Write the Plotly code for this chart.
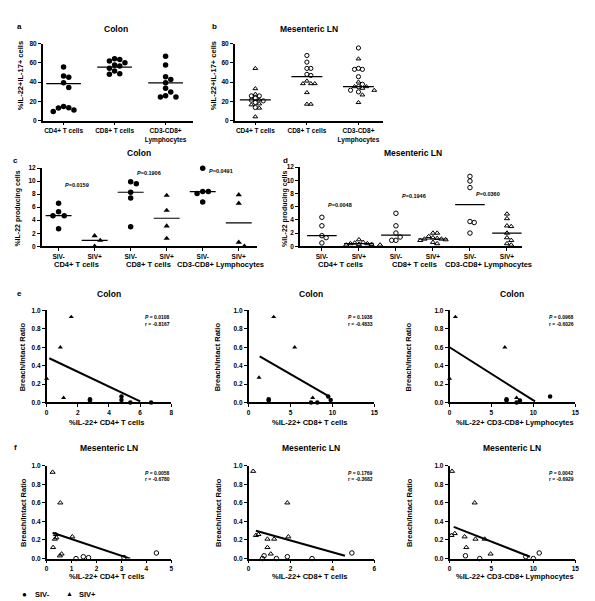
import numpy as np
import plotly.graph_objects as go

W, H = 595, 601

# ---------------- DATA ----------------
a_groups = ["CD4+ T cells", "CD8+ T cells", "CD3-CD8+<br>Lymphocytes"]
a_cd4 = [55.7, 46.4, 45.0, 39.5, 34.4, 14.8, 13.1, 13.4, 11.0, 9.6]
a_cd8 = [64.2, 63.5, 61.9, 60.2, 57.8, 56.8, 54.4, 51.5, 48.8, 48.1]
a_cd3 = [67.0, 57.8, 45.7, 42.9, 39.5, 33.7, 29.9, 25.8, 24.7, 24.7]
a_lines = [38.5, 55.6, 39.2]

b_cd4_neg = [25.8, 25.8, 23.4, 21.3, 20.6, 18.9, 13.7]
b_cd4_pos = [54.3, 33.3, 27.5, 21.6, 17.5, 16.5, 13.1, 4.1]
b_cd8_neg = [67.7, 60.8, 54.3, 54.3, 48.1, 47.0]
b_cd8_pos = [41.2, 38.5, 38.5, 38.5, 29.2, 17.2, 17.2]
b_cd3_neg = [75.5, 54.3, 53.3, 53.3, 45.7, 37.8, 35.4, 31.6, 29.9]
b_cd3_pos = [64.2, 40.2, 35.4, 35.4, 33.7, 31.6, 26.8, 18.9]
b_lines = [21.6, 45.7, 35.4]

cd_groups = ["CD4+ T cells", "CD8+ T cells", "CD3-CD8+ Lymphocytes"]
cd_ticks = ["SIV-", "SIV+", "SIV-", "SIV+", "SIV-", "SIV+"]

c_neg = [[6.6, 5.3, 4.7, 4.7, 2.7], [9.9, 9.6, 8.3, 7.4, 3.0], [12.0, 8.4, 8.4, 8.1, 6.8]]
c_pos = [[1.6, 0.9, 0.0], [7.8, 5.5, 3.1, 1.2], [7.9, 6.6, 0.6, 0.0]]
c_pvals = ["0.0159", "0.1906", "0.0491"]
c_p_y = [9.4, 11.2, 11.5]

d_neg = [[4.4, 3.1, 1.6, 1.3, 0.5], [5.0, 3.1, 2.0, 1.4, 0.9, 0.9],
         [10.6, 9.9, 8.9, 3.75, 3.6, 2.0]]
d_pos = [[1.0, 0.6, 0.5, 0.4, 0.4, 0.3, 0.3, 0.2, 0.2],
         [2.0, 2.0, 1.5, 1.3, 1.2, 1.1, 1.1, 1.0, 0.9, 0.6, 0.4],
         [4.9, 4.2, 3.1, 3.0, 2.0, 1.3, 0.9, 0.4, 0.2]]
d_pvals = ["0.0048", "0.1946", "0.0360"]
d_p_y = [6.3, 7.6, 7.9]

# correlation panels (e: colon, f: mesenteric LN)
e_xlabels = ["%IL-22+ CD4+ T cells", "%IL-22+ CD8+ T cells", "%IL-22+ CD3-CD8+ Lymphocytes"]
e_xmax = [8, 15, 15]
e_xdtick = [2, 5, 5]
e_neg_x = [[2.78, 2.78, 4.8, 4.8, 5.37, 6.7], [2.4, 2.4, 7.45, 8.2, 9.5, 9.8], [6.8, 6.8, 8.0, 8.4, 12.0]]
e_neg_y = [[0.035, 0.02, 0.065, 0.025, 0.0, 0.0], [0.035, 0.02, 0.0, 0.0, 0.065, 0.025], [0.035, 0.02, 0.0, 0.02, 0.065]]
e_pos_x = [[1.58, 0.88, 1.09, 0.0], [3.0, 5.5, 1.25, 7.65], [0.7, 6.6, 8.0, 0.0]]
e_pos_y = [[0.93, 0.6, 0.05, 0.26], [0.93, 0.6, 0.27, 0.05], [0.93, 0.6, 0.05, 0.26]]
e_fit_slope = [-0.0806, -0.0526, -0.0578]
e_fit_icpt = [0.494, 0.570, 0.60]
e_fit_span = [[0.17, 6.0], [1.33, 9.7], [0.0, 10.2]]
e_P = ["0.0108", "0.1938", "0.0968"]
e_r = ["-0.8167", "-0.4833", "-0.6026"]

f_xmax = [5, 6, 15]
f_xdtick = [1, 2, 5]
f_neg_x = [[1.18, 1.47, 1.68, 3.1, 4.4], [0.74, 0.66, 1.33, 1.85, 3.03, 4.93], [1.9, 3.6, 9.1, 10.0, 10.7]]
f_neg_y = [[0.0, 0.02, 0.01, 0.01, 0.06], [0.03, 0.0, 0.0, 0.02, 0.0, 0.06], [0.03, 0.0, 0.02, 0.0, 0.06]]
f_pos_x = [[0.24, 0.55, 0.37, 0.39, 0.33, 0.26, 1.03, 0.6, 0.53],
           [0.22, 1.85, 0.35, 0.47, 0.9, 1.22, 1.9, 0.9, 1.06],
           [0.3, 3.0, 0.24, 0.63, 1.8, 3.1, 4.2, 2.0, 4.9]]
f_pos_y = [[0.93, 0.6, 0.26, 0.225, 0.21, 0.12, 0.235, 0.05, 0.03],
           [0.94, 0.6, 0.25, 0.26, 0.21, 0.21, 0.235, 0.12, 0.05],
           [0.94, 0.6, 0.25, 0.27, 0.235, 0.21, 0.21, 0.12, 0.05]]
f_fit_slope = [-0.090, -0.0635, -0.0352]
f_fit_icpt = [0.30, 0.322, 0.358]
f_fit_span = [[0.24, 3.35], [0.35, 4.6], [0.5, 9.6]]
f_P = ["0.0058", "0.1769", "0.0042"]
f_r = ["-0.6780", "-0.3682", "-0.6929"]

# ---------------- HELPERS ----------------
FONT = "Liberation Sans, Arial, sans-serif"


def xdom(p0, p1):
    return [p0 / W, p1 / W]


def ydom(top, bot):
    return [1 - bot / H, 1 - top / H]


def px(x):
    return x / W


def py(y):
    return 1 - y / H


def swarm(vals, ppu_y, ppc, msize):
    """simple beeswarm: returns x offsets (category units)"""
    order = np.argsort(-np.asarray(vals), kind="stable")
    placed = []
    offs = np.zeros(len(vals))
    step = msize * 0.95
    for i in order:
        yp = vals[i] * ppu_y
        cands = [0]
        for j in range(1, 12):
            cands += [j * step, -j * step]
        for c in cands:
            ok = True
            for (xo, yo) in placed:
                if abs(xo - c) < msize * 0.95 and abs(yo - yp) < msize * 0.95:
                    ok = False
                    break
            if ok:
                offs[i] = c
                placed.append((c, yp))
                break
    return offs / ppc


fig = go.Figure()
layout = dict(width=W, height=H, margin=dict(l=0, r=0, t=0, b=0),
              paper_bgcolor="white", plot_bgcolor="white", showlegend=False,
              font=dict(family=FONT, color="black"))
annots = []

axis_common = dict(showline=True, linecolor="black", linewidth=1.5, ticks="outside",
                   ticklen=3, tickwidth=1.2, tickcolor="black", showgrid=False,
                   zeroline=False, tickfont=dict(size=6.5, family=FONT, weight="bold", color="black"))


def add_axes(n, xd, yd, xr, yr, **kw):
    xa = "xaxis" if n == 1 else f"xaxis{n}"
    ya = "yaxis" if n == 1 else f"yaxis{n}"
    xk = dict(axis_common, domain=xd, range=xr, anchor="y" if n == 1 else f"y{n}")
    yk = dict(axis_common, domain=yd, range=yr, anchor="x" if n == 1 else f"x{n}")
    xk.update(kw.get("x", {}))
    yk.update(kw.get("y", {}))
    layout[xa] = xk
    layout[ya] = yk
    return ("x" if n == 1 else f"x{n}", "y" if n == 1 else f"y{n}")


def text(x, y, s, size=7, bold=True, xref="paper", yref="paper", xanchor="center",
         yanchor="middle", angle=0):
    annots.append(dict(x=x, y=y, xref=xref, yref=yref, text=s, showarrow=False,
                       xanchor=xanchor, yanchor=yanchor, textangle=angle,
                       font=dict(size=size, family=FONT, color="black",
                                 weight="bold" if bold else "normal")))


def mk(symbol, size, open_=False):
    if open_:
        return dict(symbol=symbol + "-open", size=size, color="black", line=dict(width=1, color="black"))
    return dict(symbol=symbol, size=size, color="black", line=dict(width=0))


def median_line(xr, yr, xc, v, half):
    fig.add_trace(go.Scatter(x=[xc - half, xc + half], y=[v, v], mode="lines",
                             line=dict(color="black", width=1.2), xaxis=xr, yaxis=yr,
                             hoverinfo="skip"))


# ---------------- PANEL a ----------------
xr, yr = add_axes(1, xdom(33, 185), ydom(32, 110), [-0.41, 2.54], [0, 80],
                  x=dict(tickvals=[0, 1, 2], ticktext=a_groups),
                  y=dict(tickvals=[0, 20, 40, 60, 80]))
for gi, vals in enumerate([a_cd4, a_cd8, a_cd3]):
    off = swarm(vals, 78 / 80, 51.5, 5.5)
    fig.add_trace(go.Scatter(x=gi + off, y=vals, mode="markers", marker=mk("circle", 5.5),
                             xaxis=xr, yaxis=yr, cliponaxis=False))
    median_line(xr, yr, gi, a_lines[gi], 0.34)

# ---------------- PANEL b ----------------
xr, yr = add_axes(2, xdom(227, 377), ydom(32, 110), [-0.40, 2.48], [0, 80],
                  x=dict(tickvals=[0, 1, 2], ticktext=a_groups),
                  y=dict(tickvals=[0, 20, 40, 60, 80]))
for gi, (neg, pos) in enumerate([(b_cd4_neg, b_cd4_pos), (b_cd8_neg, b_cd8_pos), (b_cd3_neg, b_cd3_pos)]):
    allv = neg + pos
    off = swarm(allv, 78 / 80, 52, 4.2)
    n = len(neg)
    fig.add_trace(go.Scatter(x=gi + off[:n], y=neg, mode="markers", marker=mk("circle", 4.2, True),
                             xaxis=xr, yaxis=yr, cliponaxis=False))
    fig.add_trace(go.Scatter(x=gi + off[n:], y=pos, mode="markers", marker=mk("triangle-up", 4.2, True),
                             xaxis=xr, yaxis=yr, cliponaxis=False))
    median_line(xr, yr, gi, b_lines[gi], 0.3)

# ---------------- PANEL c ----------------
xr, yr = add_axes(3, xdom(32, 250), ydom(158, 237), [-0.47, 5.52], [0, 12],
                  x=dict(tickvals=list(range(6)), ticktext=cd_ticks),
                  y=dict(tickvals=list(range(0, 13, 2))))
for gi in range(3):
    for si, (vals, sym) in enumerate([(c_neg[gi], "circle"), (c_pos[gi], "triangle-up")]):
        col = gi * 2 + si
        off = swarm(vals, 79 / 12, 36.4, 6)
        fig.add_trace(go.Scatter(x=col + off, y=vals, mode="markers", marker=mk(sym, 5.5),
                                 xaxis=xr, yaxis=yr, cliponaxis=False))
        median_line(xr, yr, col, float(np.median(vals)), 0.36)
    text(gi * 2 + 0.5, c_p_y[gi], "<i>P</i>=" + c_pvals[gi], size=5.5, xref=xr, yref=yr)
    text(gi * 2 + 0.5, py(255), cd_groups[gi], size=7.5, xref=xr)

# ---------------- PANEL d ----------------
xr, yr = add_axes(4, xdom(293, 517), ydom(157, 237), [-0.59, 5.4], [0, 12],
                  x=dict(tickvals=list(range(6)), ticktext=cd_ticks),
                  y=dict(tickvals=list(range(0, 13, 2))))
for gi in range(3):
    for si, (vals, sym) in enumerate([(d_neg[gi], "circle"), (d_pos[gi], "triangle-up")]):
        col = gi * 2 + si
        off = swarm(vals, 80 / 12, 37.4, 4.5)
        fig.add_trace(go.Scatter(x=col + off, y=vals, mode="markers", marker=mk(sym, 4.5, True),
                                 xaxis=xr, yaxis=yr, cliponaxis=False))
        median_line(xr, yr, col, float(np.median(vals)), 0.4)
    text(gi * 2 + 0.5, d_p_y[gi], "<i>P</i>=" + d_pvals[gi], size=5.5, xref=xr, yref=yr)
    text(gi * 2 + 0.5, py(255), cd_groups[gi], size=7.5, xref=xr)

# ---------------- PANELS e / f ----------------
cols_px = [(37, 163), (241, 368), (444, 571)]
ylab_x = [13, 210, 403]
xlab_x = [97, 303, 510]
rows = [
    dict(top=302, bot=395, title="Colon", title_y=285, xlab_y=415, xmax=e_xmax, dtick=e_xdtick,
         nx=e_neg_x, ny=e_neg_y, px_=e_pos_x, py_=e_pos_y, sl=e_fit_slope, ic=e_fit_icpt,
         sp=e_fit_span, P=e_P, r=e_r, open_=False),
    dict(top=459, bot=553, title="Mesenteric LN", title_y=441, xlab_y=571, xmax=f_xmax, dtick=f_xdtick,
         nx=f_neg_x, ny=f_neg_y, px_=f_pos_x, py_=f_pos_y, sl=f_fit_slope, ic=f_fit_icpt,
         sp=f_fit_span, P=f_P, r=f_r, open_=True),
]
n = 5
for row in rows:
    for k in range(3):
        x0, x1 = cols_px[k]
        xr, yr = add_axes(n, xdom(x0, x1), ydom(row["top"], row["bot"]), [0, row["xmax"][k]], [0, 1],
                          x=dict(dtick=row["dtick"][k], tick0=0),
                          y=dict(dtick=0.2, tickformat=".1f"))
        n += 1
        xs = np.array(row["sp"][k])
        fig.add_trace(go.Scatter(x=xs, y=row["ic"][k] + row["sl"][k] * xs, mode="lines",
                                 line=dict(color="black", width=2), xaxis=xr, yaxis=yr))
        fig.add_trace(go.Scatter(x=row["nx"][k], y=row["ny"][k], mode="markers",
                                 marker=mk("circle", 4.5, row["open_"]), xaxis=xr, yaxis=yr,
                                 cliponaxis=False))
        fig.add_trace(go.Scatter(x=row["px_"][k], y=row["py_"][k], mode="markers",
                                 marker=mk("triangle-up", 4.5, row["open_"]), xaxis=xr, yaxis=yr,
                                 cliponaxis=False))
        text(px((x0 + x1) / 2), py(row["title_y"]), row["title"], size=8.5)
        text(px(ylab_x[k]), py((row["top"] + row["bot"]) / 2), "Breach/Intact Ratio", size=7.5, angle=-90)
        text(px(xlab_x[k]), py(row["xlab_y"]), e_xlabels[k], size=7.5)
        text(px(x1 + 1), py(row["top"] + 7), "<i>P</i> = " + row["P"][k], size=5, xanchor="right")
        text(px(x1 + 1), py(row["top"] + 14), "r = " + row["r"][k], size=5, xanchor="right")

# ---------------- titles / labels ----------------
text(px(10), py(15), "a", size=8)
text(px(207), py(15), "b", size=8)
text(px(6), py(150), "c", size=8)
text(px(278), py(150), "d", size=8)
text(px(10), py(285), "e", size=8)
text(px(6), py(441), "f", size=8)
text(px(107), py(17), "Colon", size=8.5)
text(px(302), py(17), "Mesenteric LN", size=8.5)
text(px(130), py(143), "Colon", size=8.5)
text(px(407), py(143), "Mesenteric LN", size=8.5)
text(px(10), py(64), "%IL-22+IL-17+ cells", size=7.5, angle=-90)
text(px(205), py(64), "%IL-22+IL-17+ cells", size=7.5, angle=-90)
text(px(8), py(199), "%IL-22 producing cells", size=7, angle=-90)
text(px(277), py(199), "%IL-22 producing cells", size=7, angle=-90)

# legend
text(px(15), py(589), "●", size=8, bold=False)
text(px(23), py(589), "SIV-", size=7.5, xanchor="left")
text(px(60), py(588), "▲", size=7, bold=False)
text(px(68), py(589), "SIV+", size=7.5, xanchor="left")

layout["annotations"] = annots
fig.update_layout(**layout)
fig.write_html("out.html")
